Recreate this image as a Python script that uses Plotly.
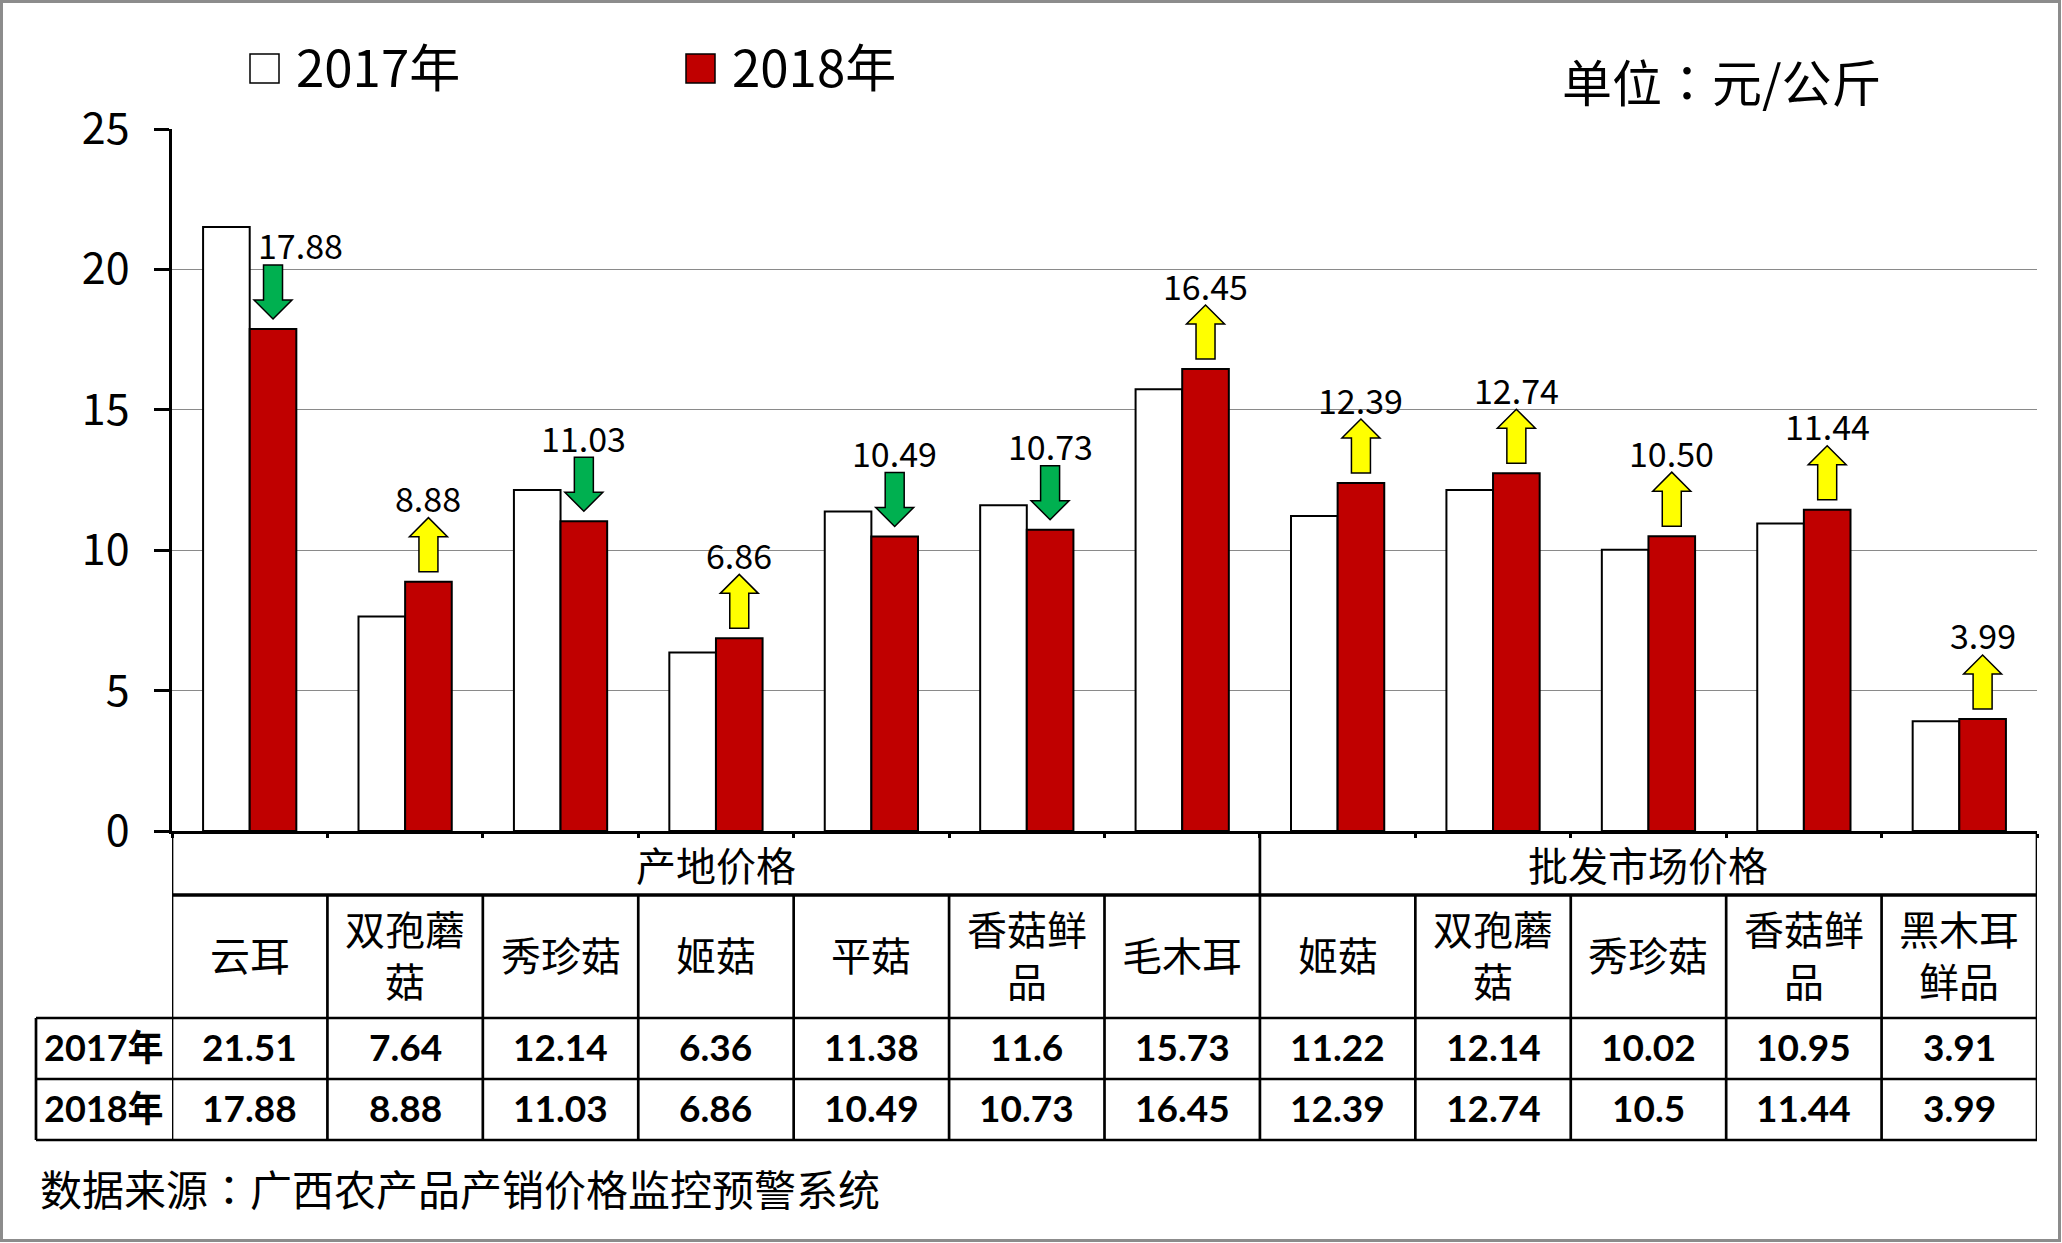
import plotly.graph_objects as go

# ---------------- data ----------------
group_names = ["产地价格", "批发市场价格"]
origin_items = ["云耳", "双孢蘑菇", "秀珍菇", "姬菇", "平菇", "香菇鲜品", "毛木耳"]
wholesale_items = ["姬菇", "双孢蘑菇", "秀珍菇", "香菇鲜品", "黑木耳鲜品"]
series_names = ["2017年", "2018年"]
price_2017 = [21.51, 7.64, 12.14, 6.36, 11.38, 11.6, 15.73, 11.22, 12.14, 10.02, 10.95, 3.91]
price_2018 = [17.88, 8.88, 11.03, 6.86, 10.49, 10.73, 16.45, 12.39, 12.74, 10.5, 11.44, 3.99]
y_ticks = [0, 5, 10, 15, 20, 25]
unit_label = "单位：元/公斤"
source_note = "数据来源：广西农产品产销价格监控预警系统"

# ---------------- layout helpers ----------------
W, H = 2062, 1243
ML, MR, MT, MB = 172, 25, 129, 412
PW, PH = W - ML - MR, H - MT - MB
CJK = "Noto Sans CJK SC"
NUM = "Lato, Noto Sans CJK SC"
RED = "#C00000"


def px(x):
    return (x - ML) / PW


def py(y):
    return (H - MB - y) / PH


def centered_colon(s):
    # full-width colon drawn centred in its cell, as in the original
    return s.replace("：", '<span style="font-family:Noto Sans CJK JP">：</span>')


items = origin_items + wholesale_items
groups = [group_names[0]] * len(origin_items) + [group_names[1]] * len(wholesale_items)
categories = [f"{g}·{n}" for g, n in zip(groups, items)]
n_cat = len(categories)
n_origin = len(origin_items)

fig = go.Figure()
fig.add_bar(x=categories, y=price_2017, name=series_names[0],
            marker=dict(color="white", line=dict(color="black", width=2)),
            showlegend=False)
fig.add_bar(x=categories, y=price_2018, name=series_names[1],
            marker=dict(color=RED, line=dict(color="black", width=2)),
            showlegend=False)

shapes = []
annotations = []


def text(x, y, s, size, family=CJK, xref="paper", yref="paper", xanchor="center", **kw):
    annotations.append(dict(x=x, y=y, xref=xref, yref=yref, text=s, showarrow=False,
                            xanchor=xanchor, yanchor="middle",
                            font=dict(family=family, size=size, color="black"), **kw))


# ---------------- change arrows + labels ----------------
unit_px = PH / (y_ticks[-1] - y_ticks[0])
bar_off = 0.15
shaft_hw = 9.5 / PW * n_cat
head_hw = 19 / PW * n_cat
gap_u = 10 / unit_px
len_u = 54 / unit_px
head_u = 19 / unit_px
for i, (a, b) in enumerate(zip(price_2017, price_2018)):
    c = i + bar_off
    y0 = b + gap_u
    y1 = y0 + len_u
    up = b > a
    if up:
        tip, base = y1, y0
        hb = tip - head_u
    else:
        tip, base = y0, y1
        hb = tip + head_u
    path = (f"M{c - shaft_hw},{base} L{c + shaft_hw},{base} L{c + shaft_hw},{hb} "
            f"L{c + head_hw},{hb} L{c},{tip} L{c - head_hw},{hb} L{c - shaft_hw},{hb} Z")
    shapes.append(dict(type="path", xref="x", yref="y", path=path,
                       fillcolor="#FFFF00" if up else "#00B050",
                       line=dict(color="black", width=1.5), layer="above"))
    label_y = b + 84 / unit_px
    shift = 27 if a > label_y - 1 else 0
    text(c, label_y, f"{b:.2f}", 34, xref="x", yref="y", xshift=shift)

# ---------------- table ----------------
TOP, G_BOT, N_BOT, R1_BOT, R2_BOT = 832, 895, 1018, 1079, 1140
HDR_L = 36
LW = 2.7
line = dict(color="black", width=LW)


def vline_cat(xv, y0pix, y1pix):
    shapes.append(dict(type="line", xref="x", yref="paper", x0=xv, x1=xv,
                       y0=py(y0pix), y1=py(y1pix), line=line))


vline_cat(-0.5, TOP, R2_BOT)
vline_cat(n_cat - 0.5, TOP, R2_BOT)
vline_cat(n_origin - 0.5, TOP, R2_BOT)
for k in range(1, n_cat):
    if k != n_origin:
        vline_cat(k - 0.5, G_BOT, R2_BOT)

shapes.append(dict(type="line", xref="x", yref="paper", x0=-0.5, x1=n_cat - 0.5,
                   y0=py(G_BOT), y1=py(G_BOT), line=dict(color="black", width=3.3)))
for ypix in (N_BOT, R1_BOT, R2_BOT):
    shapes.append(dict(type="line", xref="paper", yref="paper", x0=px(HDR_L), x1=1,
                       y0=py(ypix), y1=py(ypix), line=line))
shapes.append(dict(type="line", xref="paper", yref="paper", x0=px(HDR_L), x1=px(HDR_L),
                   y0=py(N_BOT), y1=py(R2_BOT), line=line))

text((n_origin - 1) / 2, py((TOP + G_BOT) / 2), group_names[0], 40, xref="x")
text((n_origin + n_cat - 1) / 2, py((TOP + G_BOT) / 2), group_names[1], 40, xref="x")


def wrap(s, k=3):
    return "<br>".join(s[j:j + k] for j in range(0, len(s), k))


for cat, name, a, b in zip(categories, items, price_2017, price_2018):
    text(cat, py((G_BOT + N_BOT) / 2 - 3), wrap(name), 40, xref="x")
    text(cat, py((N_BOT + R1_BOT) / 2 - 2), f"<b>{a:g}</b>", 37, family=NUM, xref="x")
    text(cat, py((R1_BOT + R2_BOT) / 2 - 2), f"<b>{b:g}</b>", 37, family=NUM, xref="x")

for name, ypix in zip(series_names, ((N_BOT + R1_BOT) / 2, (R1_BOT + R2_BOT) / 2)):
    text(px((HDR_L + ML) / 2), py(ypix - 2), f"<b>{name}</b>", 36, family=NUM)

# ---------------- legend (drawn) ----------------
legend_pos = [(250, 294), (686, 730)]
legend_fill = ["white", RED]
for (sx, tx), fill, name in zip(legend_pos, legend_fill, series_names):
    shapes.append(dict(type="rect", xref="paper", yref="paper",
                       x0=px(sx), x1=px(sx + 29), y0=py(54), y1=py(83),
                       fillcolor=fill, line=dict(color="black", width=1.5)))
    text(px(tx), py(65), name, 51, xanchor="left")

text(px(1560), py(80), centered_colon(unit_label), 50, xanchor="left")
text(px(38), py(1187), centered_colon(source_note), 42, xanchor="left")

# outer frame
shapes.append(dict(type="rect", xref="paper", yref="paper",
                   x0=px(1.5), x1=px(W - 2.5), y0=py(1.5), y1=py(H - 2.5),
                   line=dict(color="#8c8c8c", width=3)))

fig.update_layout(
    width=W, height=H,
    margin=dict(l=ML, r=MR, t=MT, b=MB, autoexpand=False),
    paper_bgcolor="white", plot_bgcolor="white",
    barmode="group", bargap=0.4, bargroupgap=0,
    shapes=shapes, annotations=annotations,
    font=dict(family=CJK, color="black"),
    xaxis=dict(type="category", range=[-0.5, n_cat - 0.5], showticklabels=False,
               ticks="outside", tickson="boundaries", ticklen=4, tickwidth=2.5,
               tickcolor="black", showline=True, linecolor="black", linewidth=2.7,
               showgrid=False, zeroline=False),
    yaxis=dict(range=[y_ticks[0], y_ticks[-1]], tickvals=y_ticks, showline=True,
               linecolor="black", linewidth=2.7, ticks="outside", ticklen=15,
               tickwidth=2.7, tickcolor="black", showgrid=True, gridcolor="#8a8a8a",
               gridwidth=1.3, zeroline=False, ticklabelstandoff=16,
               tickfont=dict(family=CJK, size=43, color="black")),
)

fig.write_html("out.html", config={"displayModeBar": False},
               post_script="document.body.style.margin='0';document.body.style.overflow='hidden';")
